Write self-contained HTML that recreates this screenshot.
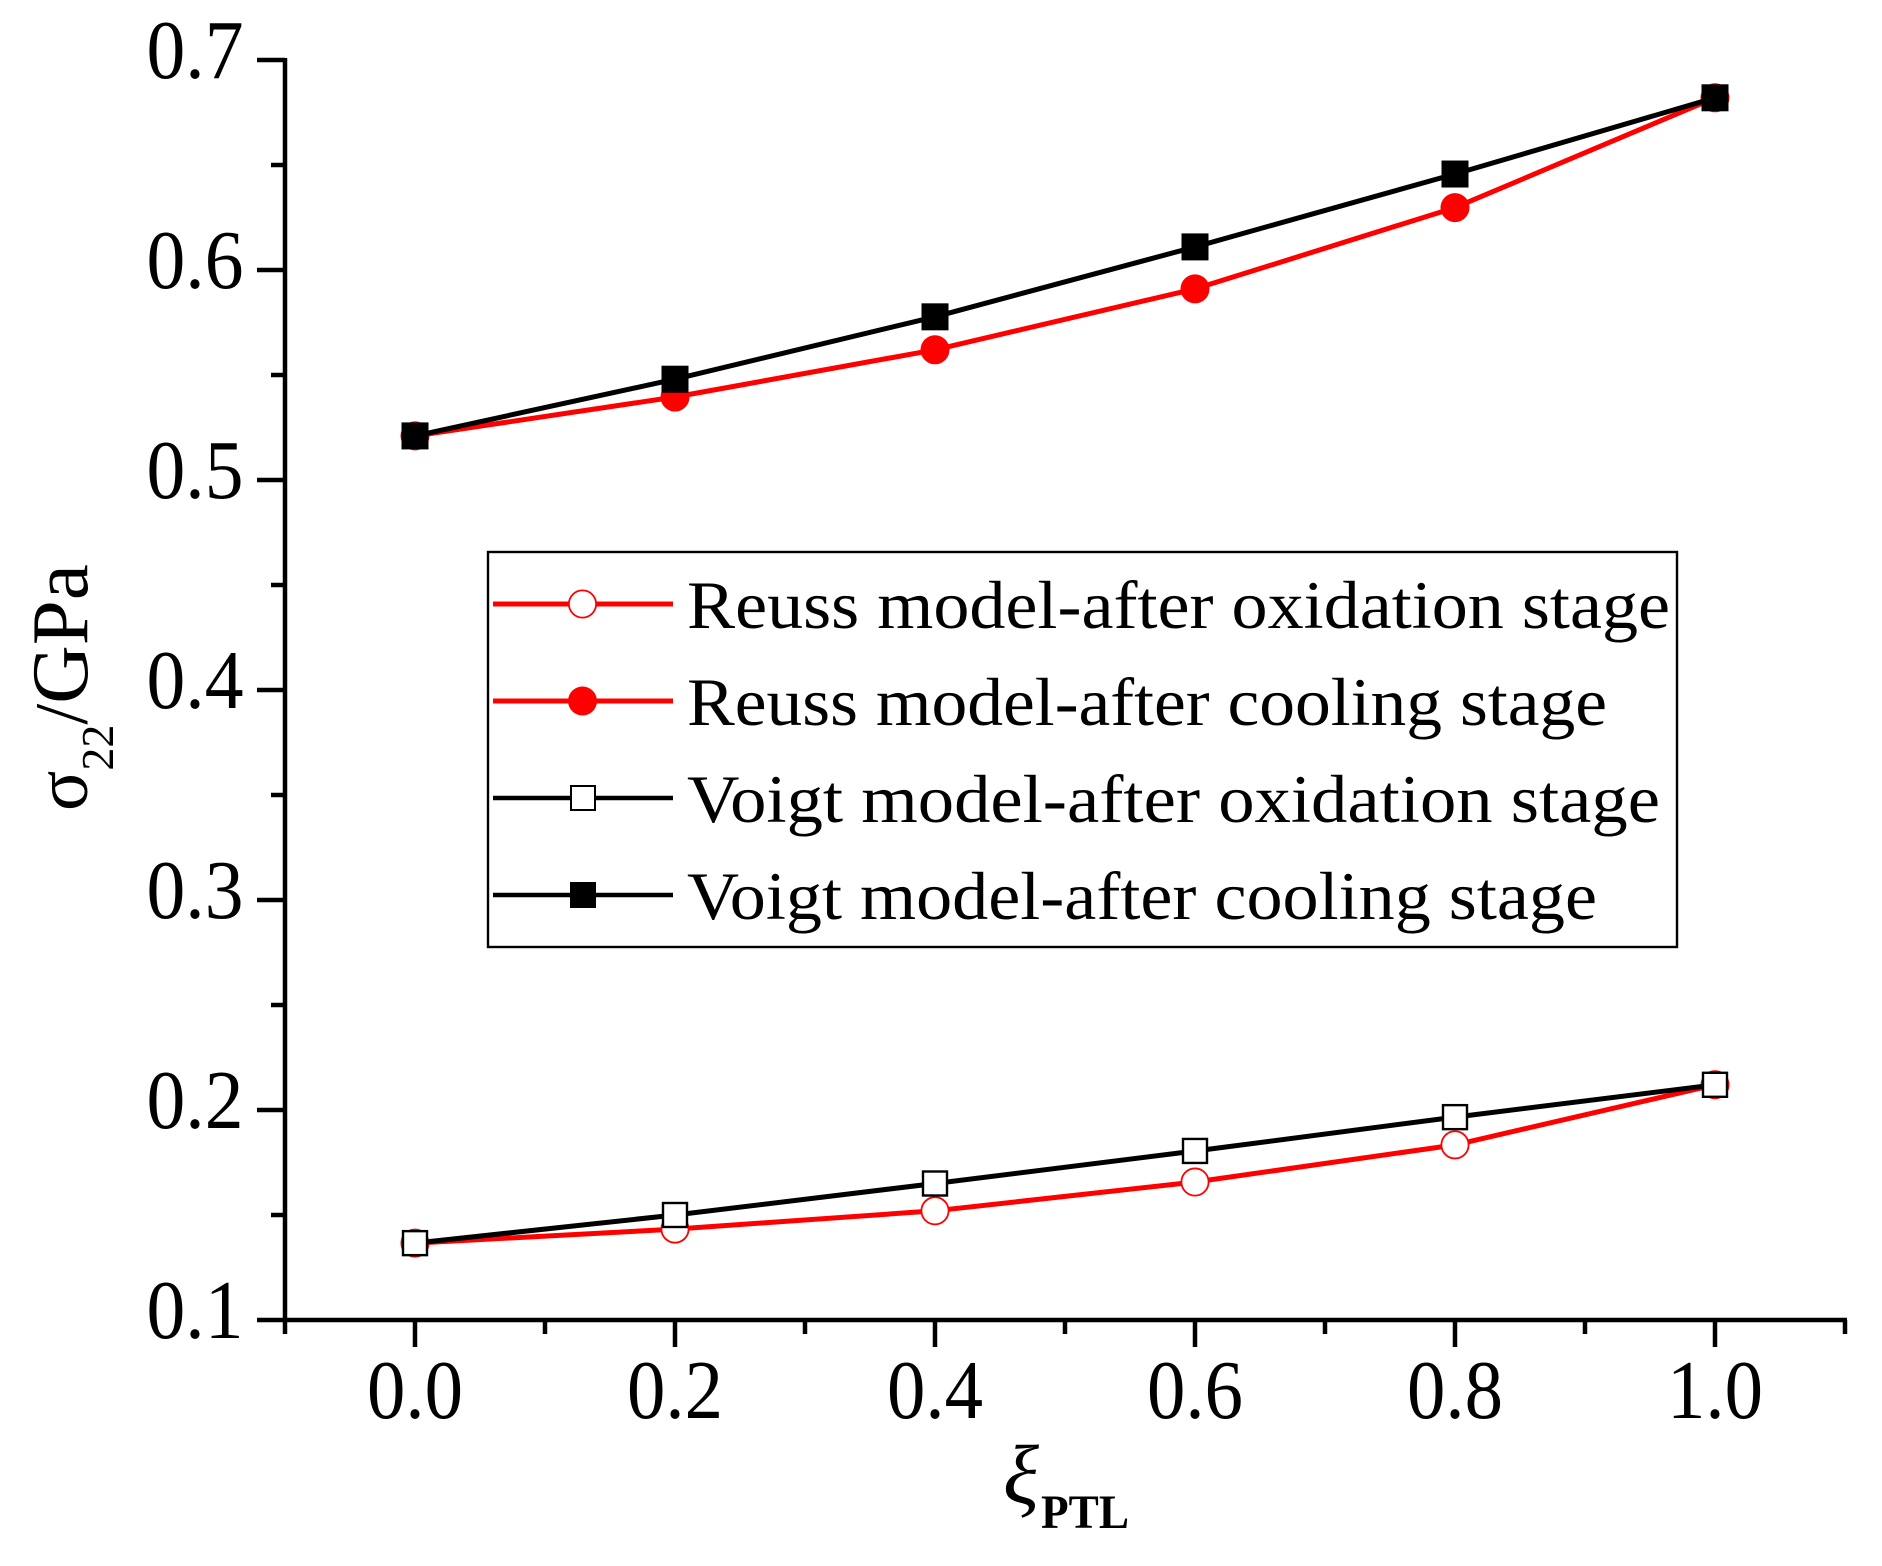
<!DOCTYPE html>
<html lang="en">
<head>
<meta charset="utf-8">
<title>σ22 versus ξPTL</title>
<style>
html,body{margin:0;padding:0;background:#fff;}
svg{display:block;}
text{font-family:"Liberation Serif",serif;fill:#000;}
</style>
</head>
<body>
<svg id="chart" xmlns="http://www.w3.org/2000/svg" width="1882" height="1566" viewBox="0 0 1882 1566">
  <rect x="0" y="0" width="1882" height="1566" fill="#fff"/>
  <g id="axes"></g>
  <g id="series"></g>

  <text transform="translate(87,811) rotate(-90)" font-size="75">σ<tspan font-size="46" dy="26">22</tspan><tspan dy="-26">/</tspan><tspan font-size="81">GPa</tspan></text>
  <text x="1003" y="1503" font-size="84" font-style="italic">ξ</text>
  <text x="1041" y="1528" font-size="48" font-weight="bold" textLength="88" lengthAdjust="spacingAndGlyphs">PTL</text>

  <g>
    <rect x="488" y="552" width="1189" height="395" fill="#fff" stroke="#000" stroke-width="2.4"/>

    <g>
      <line x1="493" y1="604" x2="673" y2="604" stroke="#f00" stroke-width="5"/>
      <circle cx="582.5" cy="604" r="13.6" fill="#fff" stroke="#f00" stroke-width="1.8"/>
      <text x="687" y="628" font-size="68" textLength="983" lengthAdjust="spacingAndGlyphs">Reuss model-after oxidation stage</text>
    </g>
    <g>
      <line x1="493" y1="701" x2="673" y2="701" stroke="#f00" stroke-width="5"/>
      <circle cx="582.5" cy="701" r="14.5" fill="#f00"/>
      <text x="687" y="725" font-size="68" textLength="920" lengthAdjust="spacingAndGlyphs">Reuss model-after cooling stage</text>
    </g>
    <g>
      <line x1="493" y1="798" x2="673" y2="798" stroke="#000" stroke-width="4.5"/>
      <rect x="571" y="786" width="24" height="24" fill="#fff" stroke="#000" stroke-width="2"/>
      <text x="687" y="822" font-size="68" textLength="973" lengthAdjust="spacingAndGlyphs">Voigt model-after oxidation stage</text>
    </g>
    <g>
      <line x1="493" y1="895" x2="673" y2="895" stroke="#000" stroke-width="4.5"/>
      <rect x="570" y="882" width="26" height="26" fill="#000"/>
      <text x="687" y="919" font-size="68" textLength="910" lengthAdjust="spacingAndGlyphs">Voigt model-after cooling stage</text>
    </g>
  </g>
</svg>
<script>
const categories = [0.0, 0.2, 0.4, 0.6, 0.8, 1.0];
const xTickLabels = ["0.0", "0.2", "0.4", "0.6", "0.8", "1.0"];
const xTickValues = [0.0, 0.2, 0.4, 0.6, 0.8, 1.0];
const xMinorValues = [-0.1, 0.1, 0.3, 0.5, 0.7, 0.9, 1.1];
const yTickLabels = ["0.1", "0.2", "0.3", "0.4", "0.5", "0.6", "0.7"];
const yTickValues = [0.1, 0.2, 0.3, 0.4, 0.5, 0.6, 0.7];
const yMinorValues = [0.15, 0.25, 0.35, 0.45, 0.55, 0.65];
const reussOxidation = [0.1366, 0.1433, 0.152, 0.1657, 0.1834, 0.212];
const reussCooling = [0.521, 0.5395, 0.562, 0.591, 0.6297, 0.682];
const voigtOxidation = [0.1366, 0.150, 0.165, 0.1805, 0.1966, 0.212];
const voigtCooling = [0.521, 0.548, 0.5777, 0.611, 0.6457, 0.682];

function xScale(v) { return 415 + v * 1300; }
function yScale(v) { return 1320 - (v - 0.1) * 2100; }

const NS = "http://www.w3.org/2000/svg";
const axesLayer = document.getElementById("axes");
const seriesLayer = document.getElementById("series");

function make(tag, attrs, parent) {
  const el = document.createElementNS(NS, tag);
  for (const k in attrs) el.setAttribute(k, attrs[k]);
  parent.appendChild(el);
  return el;
}

const yAxisLine = make("line", {x1: xScale(-0.1), y1: yScale(0.7) - 2, x2: xScale(-0.1), y2: yScale(0.1) + 2, stroke: "#000", "stroke-width": 4.5}, axesLayer);



const xAxisLine = make("line", {x1: xScale(-0.1) - 2, y1: yScale(0.1), x2: xScale(1.1) + 2, y2: yScale(0.1), stroke: "#000", "stroke-width": 4.5}, axesLayer);



yTickValues.forEach(function (v, i) {
  const tick = make("line", {x1: xScale(-0.1) - 28, y1: yScale(v), x2: xScale(-0.1), y2: yScale(v), stroke: "#000", "stroke-width": 4.5}, axesLayer);
  
  
  const label = make("text", {x: 146.5, y: yScale(v) + 18, "font-size": 84, textLength: 97, lengthAdjust: "spacingAndGlyphs"}, axesLayer);
  
  
  label.textContent = yTickLabels[i];
});

yMinorValues.forEach(function (v) {
  const tick = make("line", {x1: xScale(-0.1) - 14, y1: yScale(v), x2: xScale(-0.1), y2: yScale(v), stroke: "#000", "stroke-width": 4.5}, axesLayer);
  
  
});

xTickValues.forEach(function (v, i) {
  const tick = make("line", {x1: xScale(v), y1: yScale(0.1), x2: xScale(v), y2: yScale(0.1) + 27, stroke: "#000", "stroke-width": 4.5}, axesLayer);
  
  
  const label = make("text", {x: xScale(v) - 48, y: 1418, "font-size": 84, textLength: 96, lengthAdjust: "spacingAndGlyphs"}, axesLayer);
  
  
  label.textContent = xTickLabels[i];
});

xMinorValues.forEach(function (v) {
  const tick = make("line", {x1: xScale(v), y1: yScale(0.1), x2: xScale(v), y2: yScale(0.1) + 14, stroke: "#000", "stroke-width": 4.5}, axesLayer);
  
  
});

function seriesPath(values) {
  return values.map(function (v, i) {
    return (i ? "L" : "M") + xScale(categories[i]).toFixed(1) + " " + yScale(v).toFixed(1);
  }).join(" ");
}

function drawLine(values, color, name) {
  const path = make("path", {d: seriesPath(values), fill: "none", stroke: color, "stroke-width": 5, "stroke-linejoin": "round"}, seriesLayer);
  
  
}

function drawCircles(values, fill, stroke, r, sw, name) {
  values.forEach(function (v, i) {
    const c = make("circle", {cx: xScale(categories[i]), cy: yScale(v), r: r, fill: fill, stroke: stroke, "stroke-width": sw}, seriesLayer);
    
    
  });
}

function drawSquares(values, fill, stroke, size, sw, name) {
  values.forEach(function (v, i) {
    const s = make("rect", {x: xScale(categories[i]) - size / 2, y: yScale(v) - size / 2, width: size, height: size, fill: fill, stroke: stroke, "stroke-width": sw}, seriesLayer);
    
    
  });
}

drawLine(reussOxidation, "#f00", "line-reuss-oxidation");
drawCircles(reussOxidation, "#fff", "#f00", 13.6, 1.8, "point-reuss-oxidation");
drawLine(reussCooling, "#f00", "line-reuss-cooling");
drawCircles(reussCooling, "#f00", "none", 14.5, 0, "point-reuss-cooling");
drawLine(voigtOxidation, "#000", "line-voigt-oxidation");
drawSquares(voigtOxidation, "#fff", "#000", 24, 2.4, "point-voigt-oxidation");
drawLine(voigtCooling, "#000", "line-voigt-cooling");
drawSquares(voigtCooling, "#000", "none", 27, 0, "point-voigt-cooling");
</script>
</body>
</html>
